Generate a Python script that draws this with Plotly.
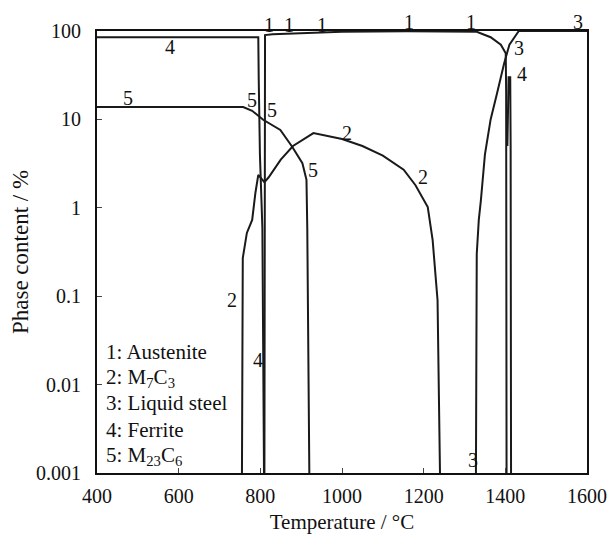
import plotly.graph_objects as go

# ---- data ----
aus_T = [810, 811.5, 830, 900, 980, 1000, 1160, 1330, 1364, 1389, 1401, 1402, 1403]
aus_v = [0.001, 90, 92, 94, 96, 98, 99.5, 98, 85, 70, 56, 20, 0.001]

m7_T = [755, 757, 767, 780, 788, 795, 810, 820, 850, 880, 930, 1000, 1050, 1100, 1151, 1180, 1210, 1222, 1234, 1240]
m7_v = [0.001, 0.27, 0.52, 0.73, 1.48, 2.36, 1.95, 2.2, 3.5, 5.0, 7.0, 6.0, 5.0, 3.9, 2.7, 1.8, 1.02, 0.43, 0.09, 0.001]

liq_T = [1328, 1330, 1335, 1340, 1350, 1364, 1380, 1397, 1410, 1433, 1600]
liq_v = [0.001, 0.3, 0.73, 1.2, 4.0, 10, 20, 43, 70, 100, 100]

fer_T = [400, 795, 796, 799, 805, 808, 809, 1404, 1405, 1408, 1412, 1413, 1414]
fer_v = [85, 85, 30, 4, 0.6, 0.004, 0.001, None, 5, 30, 30, 5, 0.001]

m23_T = [400, 758, 780, 807, 849, 878, 903, 913, 915, 920]
m23_v = [13.8, 13.8, 12.5, 9.9, 7.6, 4.9, 3.2, 2.07, 0.57, 0.001]

x_ticks = [400, 600, 800, 1000, 1200, 1400, 1600]
y_ticks = [0.001, 0.01, 0.1, 1, 10, 100]
y_tick_text = ["0.001", "0.01", "0.1", "1", "10", "100"]

legend_lines = ["1: Austenite", "2: M<sub>7</sub>C<sub>3</sub>", "3: Liquid steel",
                "4: Ferrite", "5: M<sub>23</sub>C<sub>6</sub>"]

# curve number labels inside the axes: (text, T, log10 value)
curve_labels = [
    ("4", 579, 1.82), ("5", 476, 1.24), ("5", 780, 1.22), ("5", 829, 1.11),
    ("5", 930, 0.43), ("2", 1013, 0.85), ("2", 1198, 0.35), ("2", 731, -1.04),
    ("4", 795, -1.72), ("3", 1320, -2.85), ("3", 1433, 1.81), ("4", 1440, 1.51),
]
# curve number labels just above the top frame: (text, T, paper y)
top_labels = [
    ("1", 820, 1.014), ("1", 869, 1.014), ("1", 952, 1.014), ("1", 1163, 1.020),
    ("1", 1315, 1.020), ("3", 1578, 1.020),
]

FONT = "Liberation Serif, Times New Roman, serif"
LINE = dict(color="#1a1a1a", width=2)

fig = go.Figure()
for T, v, name in [(aus_T, aus_v, "Austenite"), (m7_T, m7_v, "M7C3"),
                   (liq_T, liq_v, "Liquid steel"), (fer_T, fer_v, "Ferrite"),
                   (m23_T, m23_v, "M23C6")]:
    fig.add_trace(go.Scatter(x=T, y=v, mode="lines", line=LINE, name=name,
                             showlegend=False, connectgaps=False))

annotations = []
for txt, T, ly in curve_labels:
    annotations.append(dict(x=T, y=ly, text=txt, showarrow=False,
                            font=dict(family=FONT, size=20, color="#111"),
                            xanchor="center", yanchor="middle"))
for txt, T, py in top_labels:
    annotations.append(dict(x=T, y=py, xref="x", yref="paper", text=txt, showarrow=False,
                            font=dict(family=FONT, size=20, color="#111"),
                            xanchor="center", yanchor="middle"))
legend_y = [-1.63, -1.92, -2.21, -2.51, -2.81]
for txt, ly in zip(legend_lines, legend_y):
    annotations.append(dict(x=418, y=ly, text=txt, showarrow=False,
                            font=dict(family=FONT, size=21, color="#111"),
                            xanchor="left", yanchor="middle"))
# y-axis title placed as a rotated annotation
annotations.append(dict(x=-0.157, y=0.5, xref="paper", yref="paper",
                        text="Phase content / %", textangle=-90, showarrow=False,
                        font=dict(family=FONT, size=23, color="#111"),
                        xanchor="center", yanchor="middle"))

fig.update_layout(
    width=607, height=535,
    margin=dict(l=97, r=20, t=31, b=62),
    paper_bgcolor="white", plot_bgcolor="white",
    font=dict(family=FONT, size=20, color="#111"),
    annotations=annotations,
    showlegend=False,
)
fig.update_xaxes(range=[400, 1600], tickvals=x_ticks, ticks="inside", ticklen=5,
                 showline=True, linecolor="#111", linewidth=2, mirror=True,
                 showgrid=False, zeroline=False, automargin=False,
                 ticklabelstandoff=4,
                 title=dict(text="Temperature / °C", font=dict(family=FONT, size=21), standoff=8),
                 tickfont=dict(family=FONT, size=20))
fig.update_yaxes(type="log", range=[-3, 2], tickvals=y_ticks, ticktext=y_tick_text,
                 ticks="inside", ticklen=5,
                 showline=True, linecolor="#111", linewidth=2, mirror=True,
                 showgrid=False, zeroline=False, automargin=False,
                 ticklabelstandoff=10,
                 tickfont=dict(family=FONT, size=20))

# remove the default page margin so the 607x535 figure fills the window exactly
fig.write_html("out.html", config={"displayModeBar": False},
               post_script="document.body.style.margin='0';document.body.style.overflow='hidden';")
